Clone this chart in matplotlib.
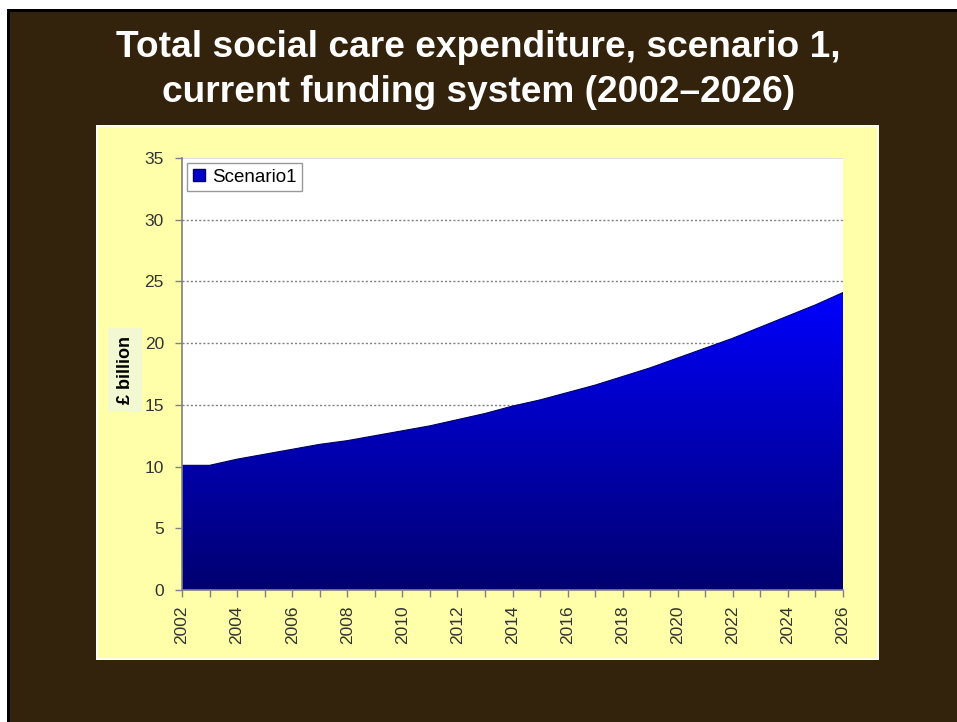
import numpy as np
import matplotlib
matplotlib.use("Agg")
import matplotlib.pyplot as plt
from matplotlib.patches import Rectangle, Patch
from matplotlib.colors import LinearSegmentedColormap

plt.rcParams['font.family'] = ['Liberation Sans', 'DejaVu Sans']

years = list(range(2002, 2027))
scenario1 = [10.1, 10.1, 10.6, 11.0, 11.4, 11.8, 12.1, 12.5, 12.9, 13.3, 13.8,
             14.3, 14.9, 15.4, 16.0, 16.6, 17.3, 18.0, 18.8, 19.6, 20.4, 21.3,
             22.2, 23.1, 24.1]
series_name = "Scenario1"
title_lines = ["Total social care expenditure, scenario 1,",
               "current funding system (2002\u20132026)"]
ylabel = "\u00a3 billion"
yticks = [0, 5, 10, 15, 20, 25, 30, 35]
xtick_labels = list(range(2002, 2027, 2))

W, H = 957, 722
fig = plt.figure(figsize=(W / 100, H / 100), dpi=100)
fig.patch.set_facecolor('white')

def fx(px):
    return px / W

def fy(py):
    return 1 - py / H

# background: black frame line then brown
fig.add_artist(Rectangle((fx(7), 0), 1, fy(9), transform=fig.transFigure,
                         facecolor='#000000', edgecolor='none', zorder=-3))
fig.add_artist(Rectangle((fx(10), 0), 1, fy(12), transform=fig.transFigure,
                         facecolor='#33230d', edgecolor='none', zorder=-2.5))

# yellow panel with white border
fig.add_artist(Rectangle((fx(96), fy(660)), fx(783), (660 - 125) / H,
                         transform=fig.transFigure, facecolor='#fdfdf0',
                         edgecolor='none', zorder=-2))
fig.add_artist(Rectangle((fx(98), fy(658)), fx(779), (658 - 127) / H,
                         transform=fig.transFigure, facecolor='#ffffaa',
                         edgecolor='none', zorder=-1.5))

fig.text(0.5, fy(57), title_lines[0], ha='center', va='baseline', color='white',
         fontsize=26.7, fontweight='bold')
fig.text(0.5, fy(102), title_lines[1], ha='center', va='baseline', color='white',
         fontsize=26.7, fontweight='bold')

ax = fig.add_axes([fx(182), fy(590), fx(661), 432 / H])
ax.set_zorder(1)
ax.set_facecolor('white')

x = np.array(years, dtype=float)
y = np.array(scenario1)

cmap = LinearSegmentedColormap.from_list('blu', ['#000070', '#0000b4', '#0000ff'])
grad = np.linspace(0, 1, 256).reshape(-1, 1)
img = ax.imshow(grad, extent=[years[0], years[-1], 0, max(scenario1)],
                origin='lower', aspect='auto', cmap=cmap, zorder=3)
poly = ax.fill_between(x, 0, y, facecolor='none', edgecolor='none', zorder=3)
clip = poly.get_paths()[0]
img.set_clip_path(clip, transform=ax.transData)
ax.plot(x, y, color='#000060', lw=0.8, zorder=4)

ax.set_xlim(years[0], years[-1])
ax.set_ylim(0, 35)
ax.set_yticks(yticks)
ax.set_yticklabels([str(v) for v in yticks], fontsize=12.5, color='#333333')
ax.set_xticks(years)
ax.set_xticklabels([str(v) if v in xtick_labels else '' for v in years],
                   rotation=90, fontsize=12.5, color='#333333')
ax.tick_params(axis='both', direction='out', length=5, width=1, color='#808080')
ax.tick_params(axis='y', pad=8)
ax.tick_params(axis='x', pad=6)
for g in yticks[1:-1]:
    ax.axhline(g, color='#808080', lw=1, ls=(0, (1.5, 1.5)), zorder=1)
ax.axhline(35, color='#e0e0e0', lw=0.8, zorder=1)

for s in ['top', 'right']:
    ax.spines[s].set_visible(False)
for s in ['left', 'bottom']:
    ax.spines[s].set_color('#808080')
    ax.spines[s].set_linewidth(1.2)
    ax.spines[s].set_zorder(5)

leg = ax.legend(handles=[Patch(facecolor='#0000cc', edgecolor='#000060', label=series_name)],
                loc='upper left', bbox_to_anchor=(0.008, 0.988), fontsize=13.5,
                frameon=True, fancybox=False, handlelength=0.65, handleheight=0.65,
                handletextpad=0.35, borderpad=0.3, borderaxespad=0)
leg.get_frame().set_edgecolor('#808080')
leg.get_frame().set_linewidth(1)
leg.set_zorder(6)

fig.text(fx(125), fy(370), ylabel, rotation=90, ha='center', va='center',
         fontsize=13, fontweight='bold', color='black', zorder=3,
         bbox=dict(boxstyle='square,pad=0.45', facecolor='#f2f9d2', edgecolor='none'))

fig.savefig('out.png', dpi=100, facecolor=fig.get_facecolor())
